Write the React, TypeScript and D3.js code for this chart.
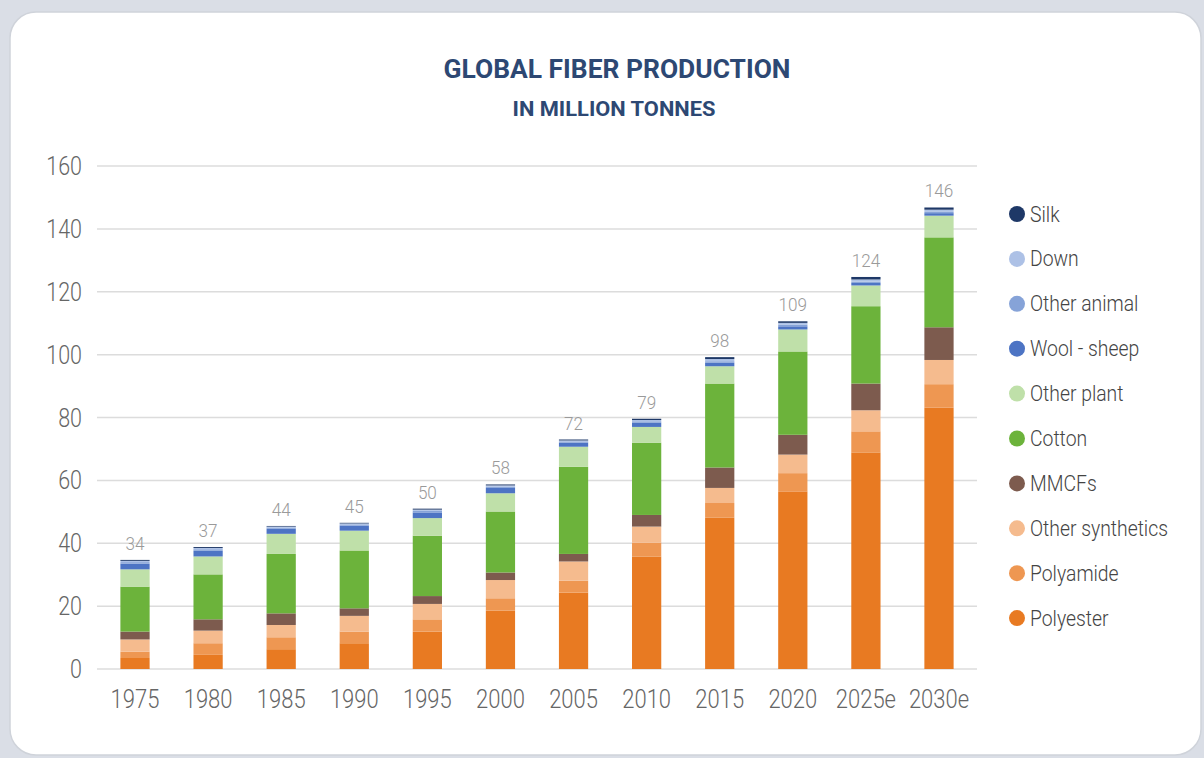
import React, { useEffect } from 'react';
import * as d3 from 'd3';

const YEARS = ['1975', '1980', '1985', '1990', '1995', '2000', '2005', '2010', '2015', '2020', '2025e', '2030e'];
const TOTALS = [34, 37, 44, 45, 50, 58, 72, 79, 98, 109, 124, 146];

// stacked bottom to top
const FIBERS = [
  'Polyester', 'Polyamide', 'Other synthetics', 'MMCFs', 'Cotton',
  'Other plant', 'Wool - sheep', 'Other animal', 'Down', 'Silk'
];

const POLYESTER = [3.5, 4.5, 6.3, 8.2, 11.9, 18.6, 24.3, 35.8, 48.1, 56.5, 68.9, 83.1];
const POLYAMIDE = [2.0, 3.7, 3.8, 3.7, 3.9, 3.9, 3.8, 4.4, 4.7, 5.8, 6.7, 7.5];
const OTHER_SYNTHETICS = [3.9, 4.0, 3.9, 5.0, 4.9, 5.8, 6.1, 5.1, 4.8, 5.9, 6.7, 7.7];
const MMCFS = [2.5, 3.6, 3.7, 2.4, 2.5, 2.4, 2.4, 3.7, 6.5, 6.3, 8.5, 10.4];
const COTTON = [14.3, 14.3, 18.9, 18.4, 19.2, 19.4, 27.7, 23.0, 26.7, 26.5, 24.6, 28.6];
const OTHER_PLANT = [5.5, 5.7, 6.4, 6.3, 5.6, 5.8, 6.4, 5.0, 5.5, 7.0, 6.6, 6.9];
const WOOL = [1.8, 1.8, 1.6, 1.6, 1.8, 1.7, 1.3, 1.4, 1.1, 1.0, 0.8, 0.8];
const OTHER_ANIMAL = [0.5, 0.5, 0.4, 0.4, 0.5, 0.4, 0.4, 0.4, 0.5, 0.5, 0.4, 0.4];
const DOWN = [0.4, 0.4, 0.3, 0.3, 0.4, 0.4, 0.3, 0.4, 0.7, 0.6, 0.7, 0.7];
const SILK = [0.3, 0.3, 0.2, 0.2, 0.3, 0.3, 0.3, 0.4, 0.6, 0.5, 0.8, 0.7];

const SERIES: Record<string, number[]> = {
  'Polyester': POLYESTER,
  'Polyamide': POLYAMIDE,
  'Other synthetics': OTHER_SYNTHETICS,
  'MMCFs': MMCFS,
  'Cotton': COTTON,
  'Other plant': OTHER_PLANT,
  'Wool - sheep': WOOL,
  'Other animal': OTHER_ANIMAL,
  'Down': DOWN,
  'Silk': SILK
};

const COLORS: Record<string, string> = {
  'Polyester': '#e87a22',
  'Polyamide': '#ee9752',
  'Other synthetics': '#f5bb8e',
  'MMCFs': '#7d5b4e',
  'Cotton': '#6cb33b',
  'Other plant': '#bfe0a9',
  'Wool - sheep': '#4d74c4',
  'Other animal': '#86a3d8',
  'Down': '#adc1e6',
  'Silk': '#1e3867'
};

const Y_TICKS = [0, 20, 40, 60, 80, 100, 120, 140, 160];
const LEGEND_ORDER = [...FIBERS].reverse();

const W = 1204;
const H = 758;
const FONT = "Roboto, 'Liberation Sans', sans-serif";
const SQUEEZE = 0.86;

// horizontally squeezed text, to get the condensed look of the original
function NarrowText(props: {
  x: number; y: number; size: number; fill: string;
  anchor?: 'start' | 'middle' | 'end'; weight?: number | string; sx?: number;
  children: React.ReactNode;
}) {
  const { x, y, size, fill, anchor = 'start', weight = 300, sx = SQUEEZE, children } = props;
  return (
    <text
      transform={`translate(${x},${y}) scale(${sx},1)`}
      textAnchor={anchor}
      fontSize={size}
      fontWeight={weight}
      fill={fill}
    >
      {children}
    </text>
  );
}

export default function App() {
  useEffect(() => {
    document.body.style.margin = '0';
  }, []);

  const rows = YEARS.map((year, i) => {
    const row: Record<string, number | string> = { year };
    FIBERS.forEach(f => { row[f] = SERIES[f][i]; });
    return row;
  });

  const stacked = d3.stack<Record<string, number | string>>()
    .keys(FIBERS)
    .value((d, key) => d[key] as number)(rows);

  const x = d3.scaleBand<string>()
    .domain(YEARS)
    .range([97, 977])
    .paddingInner(0.6)
    .paddingOuter(0.32);

  const y = d3.scaleLinear().domain([0, 160]).range([669, 166]);

  const tops = YEARS.map((_, i) => stacked[stacked.length - 1][i][1]);
  const cx = (year: string) => (x(year) ?? 0) + x.bandwidth() / 2;

  return (
    <svg width={W} height={H} style={{ display: 'block' }} fontFamily={FONT}>
      <rect x={0} y={0} width={W} height={H} fill="#dadee6" />
      <rect x={10} y={12} width={1191} height={743} rx={26} fill="#ffffff" stroke="#cfd3da" strokeWidth={1.5} />

      <text x={617} y={78} textAnchor="middle" fontSize={25} fontWeight="bold" fill="#2d4873"
        textLength={347} lengthAdjust="spacingAndGlyphs">
        GLOBAL FIBER PRODUCTION
      </text>
      <text x={614} y={116} textAnchor="middle" fontSize={19.5} fontWeight="bold" fill="#2d4873"
        textLength={203} lengthAdjust="spacingAndGlyphs">
        IN MILLION TONNES
      </text>

      {Y_TICKS.map(t => (
        <g key={t}>
          <line x1={97} x2={977} y1={y(t)} y2={y(t)} stroke="#dcdcdc" strokeWidth={1.5} />
          <NarrowText x={82} y={y(t) + 9} anchor="end" size={25} fill="#666666">{t}</NarrowText>
        </g>
      ))}

      {stacked.map(layer => (
        <g key={layer.key} fill={COLORS[layer.key]}>
          {layer.map((d, i) => (
            <rect
              key={YEARS[i]}
              x={x(YEARS[i])}
              width={x.bandwidth()}
              y={y(d[1])}
              height={y(d[0]) - y(d[1])}
            />
          ))}
        </g>
      ))}

      {YEARS.map((year, i) => (
        <NarrowText key={year} x={cx(year)} y={y(tops[i]) - 10} anchor="middle" size={19} sx={0.9} fill="#9a9a9a">
          {TOTALS[i]}
        </NarrowText>
      ))}

      {YEARS.map(year => (
        <NarrowText key={year} x={cx(year)} y={708} anchor="middle" size={25} sx={0.88} fill="#666666">
          {year}
        </NarrowText>
      ))}

      {LEGEND_ORDER.map((f, i) => (
        <g key={f} transform={`translate(1017, ${214 + i * 44.9})`}>
          <circle r={8} fill={COLORS[f]} />
          <NarrowText x={13} y={7.5} size={21.5} sx={0.9} weight={300} fill="#444444">{f}</NarrowText>
        </g>
      ))}
    </svg>
  );
}
